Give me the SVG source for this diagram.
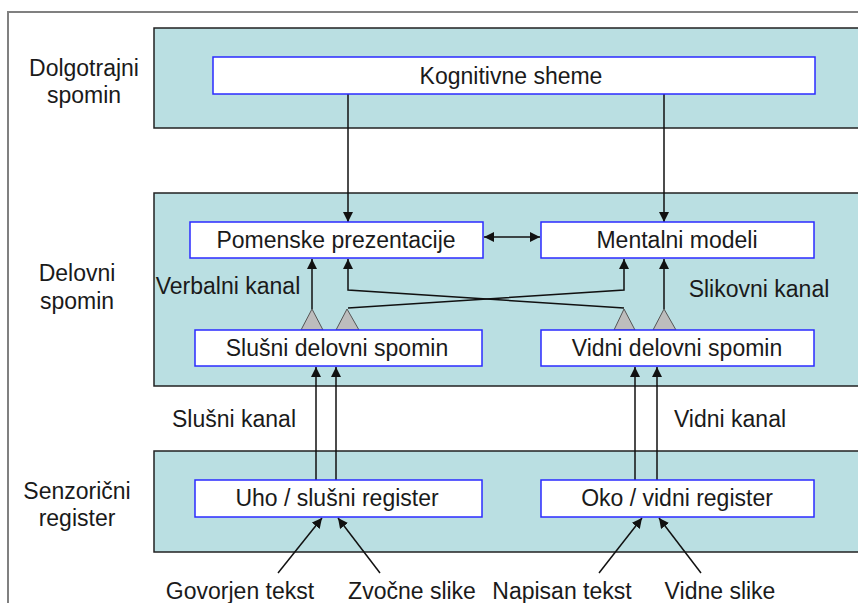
<svg xmlns="http://www.w3.org/2000/svg" width="858" height="603" viewBox="0 0 858 603">
<style>
.band{fill:#BADFE2;stroke:#222;stroke-width:1.5}
.box{fill:#fff;stroke:#2B2BFF;stroke-width:1.5}
text{font-family:"Liberation Sans",Arial,sans-serif;font-size:23px;fill:#1a1a1a;text-anchor:middle}
.ln{fill:none;stroke:#111;stroke-width:1.5}
.tri{fill:#BDBDBD;stroke:#555;stroke-width:1}
</style>
<defs>
<marker id="ah" viewBox="0 0 10 10" refX="10" refY="5" markerWidth="10" markerHeight="10" markerUnits="userSpaceOnUse" orient="auto-start-reverse">
<path d="M0,0 L10,5 L0,10 z" fill="#111"/>
</marker>
</defs>
<rect x="8" y="12" width="860" height="600" fill="#fff" stroke="#808080" stroke-width="2"/>
<g id="band-long"><rect class="band" x="154" y="28" width="710" height="100"/><text x="84" y="76">Dolgotrajni</text><text x="84" y="103">spomin</text></g>
<g id="band-working"><rect class="band" x="154" y="193" width="710" height="193"/><text x="77" y="281">Delovni</text><text x="77" y="309">spomin</text></g>
<g id="band-sensory"><rect class="band" x="154" y="451" width="710" height="101"/><text x="77" y="499">Senzorični</text><text x="77" y="526">register</text></g>
<g id="connectors">
<line class="ln" x1="348" y1="94" x2="348" y2="222" marker-end="url(#ah)"/>
<line class="ln" x1="664" y1="94" x2="664" y2="222" marker-end="url(#ah)"/>
<line class="ln" x1="484" y1="237" x2="540" y2="237" marker-start="url(#ah)" marker-end="url(#ah)"/>
<line class="ln" x1="312" y1="309" x2="312" y2="259" marker-end="url(#ah)"/>
<polyline class="ln" points="624,308 348,290 348,259" marker-end="url(#ah)"/>
<polyline class="ln" points="348,308 624,290 624,259" marker-end="url(#ah)"/>
<line class="ln" x1="664" y1="309" x2="664" y2="259" marker-end="url(#ah)"/>
<line class="ln" x1="316" y1="480" x2="316" y2="367" marker-end="url(#ah)"/>
<line class="ln" x1="336" y1="480" x2="336" y2="367" marker-end="url(#ah)"/>
<line class="ln" x1="635" y1="480" x2="635" y2="367" marker-end="url(#ah)"/>
<line class="ln" x1="657" y1="480" x2="657" y2="367" marker-end="url(#ah)"/>
<line class="ln" x1="278" y1="573" x2="322" y2="518" marker-end="url(#ah)"/>
<line class="ln" x1="380" y1="573" x2="338" y2="518" marker-end="url(#ah)"/>
<line class="ln" x1="599" y1="573" x2="642" y2="518" marker-end="url(#ah)"/>
<line class="ln" x1="701" y1="573" x2="659" y2="518" marker-end="url(#ah)"/>
<polygon class="tri" points="301,330 312,309 323,330"/>
<polygon class="tri" points="336,330 347,309 359,330"/>
<polygon class="tri" points="614,330 624,309 635,330"/>
<polygon class="tri" points="653,330 664,309 676,330"/>
</g>
<g id="kognitivne"><rect class="box" x="213" y="57" width="602" height="37"/><text x="511" y="84">Kognitivne sheme</text></g>
<g id="pomenske"><rect class="box" x="190" y="222" width="293" height="36"/><text x="336" y="248">Pomenske prezentacije</text></g>
<g id="mentalni"><rect class="box" x="541" y="222" width="273" height="36"/><text x="677" y="248">Mentalni modeli</text></g>
<g id="slusni-delovni"><rect class="box" x="195" y="330" width="287" height="36"/><text x="337" y="356">Slušni delovni spomin</text></g>
<g id="vidni-delovni"><rect class="box" x="541" y="330" width="273" height="36"/><text x="677" y="356">Vidni delovni spomin</text></g>
<g id="uho"><rect class="box" x="195" y="480" width="287" height="37"/><text x="337" y="506">Uho / slušni register</text></g>
<g id="oko"><rect class="box" x="541" y="480" width="273" height="37"/><text x="677" y="506">Oko / vidni register</text></g>
<g id="labels">
<text x="228" y="294">Verbalni kanal</text>
<text x="759" y="297">Slikovni kanal</text>
<text x="234" y="427">Slušni kanal</text>
<text x="730" y="427">Vidni kanal</text>
<text x="240" y="599">Govorjen tekst</text>
<text x="412" y="599">Zvočne slike</text>
<text x="562" y="599">Napisan tekst</text>
<text x="720" y="599">Vidne slike</text>
</g>
</svg>
